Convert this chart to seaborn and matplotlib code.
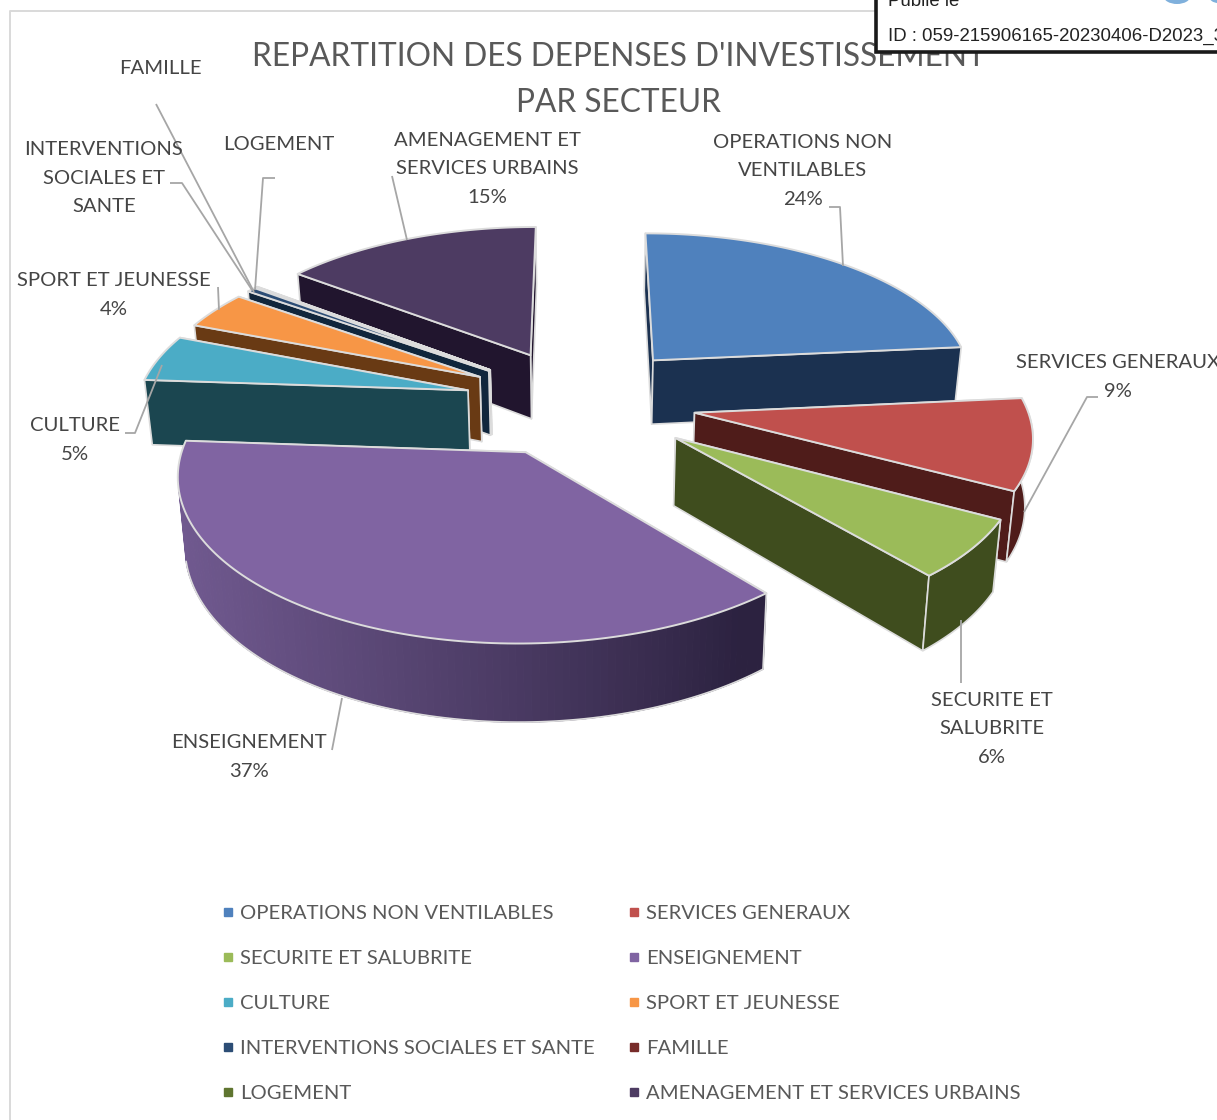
import numpy as np
import matplotlib
matplotlib.use("Agg")
import matplotlib.pyplot as plt
from matplotlib.lines import Line2D
from matplotlib.patches import Ellipse
import seaborn as sns

categories = ["OPERATIONS NON VENTILABLES", "SERVICES GENERAUX", "SECURITE ET SALUBRITE",
              "ENSEIGNEMENT", "CULTURE", "SPORT ET JEUNESSE",
              "INTERVENTIONS SOCIALES ET SANTE", "FAMILLE", "LOGEMENT",
              "AMENAGEMENT ET SERVICES URBAINS"]
values = [23.5, 9.3, 6.0, 37.3, 4.8, 3.9, 0.5, 0.05, 0.05, 14.6]
top_colors = ["#4f81bd", "#c0504d", "#9bbb59", "#8064a2", "#4bacc6", "#f79646",
              "#2c4d75", "#772c2a", "#5f7530", "#4d3b62"]
wall_colors = ["#1b3150", "#4f1c1a", "#3f4d1e", "#5f4b7c", "#1b4650", "#693a14",
               "#10263c", "#3c1514", "#2f3a16", "#21152e"]

sns.set_theme(style="white")
plt.rcParams["font.family"] = ["Lato", "DejaVu Sans"]
TXT = "#454545"
palette = sns.color_palette(top_colors)

W, H = 1217, 1120
fig = plt.figure(figsize=(W / 100, H / 100), dpi=100, facecolor="white")
ax = fig.add_axes([0, 0, 1, 1])
ax.set_xlim(0, W)
ax.set_ylim(H, 0)
ax.axis("off")

# perspective of the pie plane
CX, YV, C, K, F, DEPTH = 580.0, -865.0, 1267.0, 0.122, 331.0, 66.0
EXPL = [0.36, 0.35, 0.36, 0.35, 0.35, 0.35, 0.35, 0.35, 0.35, 0.35]
EXPL_TURN = [-3, 0, 0, 0, 0, 0, 0, 0, 0, 0]
RADIUS = [0.98, 1, 1, 1, 1, 1, 1, 1, 1, 1]
BOTTOM_SCALE = 0.982
WALL_FROM, WALL_TO = 90.0, 258.0


def project(u, v, bottom=False):
    w = 1.0 / (1.0 - K * v)
    x, y = CX + F * u * w, YV + C * w
    if bottom:
        x = CX + (x - CX) * BOTTOM_SCALE
        y = y + DEPTH * w
    return x, y


vals = np.array(values, dtype=float)
edges = np.concatenate([[0], np.cumsum(vals) / vals.sum() * 360.0])
EDGE = "#dcdcdc"
order = [9, 8, 7, 6, 5, 4, 3, 0, 1, 2]

for i in order:
    a0, a1 = np.radians(edges[i]), np.radians(edges[i + 1])
    mid = (a0 + a1) / 2 + np.radians(EXPL_TURN[i])
    u0, v0 = EXPL[i] * np.sin(mid), -EXPL[i] * np.cos(mid)
    t = np.linspace(a0, a1, 120)
    us, vs = u0 + RADIUS[i] * np.sin(t), v0 - RADIUS[i] * np.cos(t)
    xt, yt = project(us, vs)
    xb, yb = project(us, vs, True)
    ax_, ay_ = project(u0, v0)
    bx_, by_ = project(u0, v0, True)
    # radial faces: the one lying further back first
    for j in sorted((0, -1), key=lambda q: yt[q]):
        ax.fill([ax_, xt[j], xb[j], bx_], [ay_, yt[j], yb[j], by_],
                facecolor=wall_colors[i], edgecolor=EDGE, lw=1.2, joinstyle="round")
    # outer wall, only where the rim faces the viewer
    deg = np.degrees(t)
    vis = (deg >= WALL_FROM) & (deg <= WALL_TO)
    if vis.sum() > 1:
        xtv, ytv, xbv, ybv = xt[vis], yt[vis], xb[vis], yb[vis]
        if categories[i] == "ENSEIGNEMENT":
            light = np.array(matplotlib.colors.to_rgb("#70598f"))
            dark = np.array(matplotlib.colors.to_rgb("#2c2240"))
            for j in range(len(xtv) - 1):
                f = 1 - np.clip((xtv[j] - 180) / 560, 0, 1)
                col = dark + (light - dark) * f ** 0.9
                ax.fill([xtv[j], xtv[j + 1], xbv[j + 1], xbv[j]],
                        [ytv[j], ytv[j + 1], ybv[j + 1], ybv[j]],
                        facecolor=col, edgecolor=col, lw=0.8)
            ax.plot(np.r_[xbv[::-1], xtv[0]], np.r_[ybv[::-1], ytv[0]], color=EDGE, lw=1.2)
        else:
            ax.fill(np.r_[xtv, xbv[::-1]], np.r_[ytv, ybv[::-1]],
                    facecolor=wall_colors[i], edgecolor=EDGE, lw=1.2)
    # top
    ax.fill(np.r_[ax_, xt], np.r_[ay_, yt], facecolor=palette[i], edgecolor=EDGE, lw=1.4,
            joinstyle="round")

# leader lines
leaders = [[(156, 104), (254, 292)],
           [(170, 183), (182, 183), (252, 290)],
           [(275, 178), (263, 178), (255, 290)],
           [(392, 176), (407, 240)],
           [(829, 207), (840, 207), (843, 266)],
           [(1098, 397), (1087, 397), (1024, 512)],
           [(961, 620), (961, 683)],
           [(332, 750), (342, 698)],
           [(125, 433), (135, 433), (162, 365)],
           [(218, 287), (219, 310)]]
for pts in leaders:
    ax.plot(*zip(*pts), color="#a6a6a6", lw=1.3, solid_capstyle="butt")

# data labels
pct = [f"{round(v / vals.sum() * 100)}%" for v in vals]
labels = [("OPERATIONS NON\nVENTILABLES\n" + pct[0], 803, 171),
          ("SERVICES GENERAUX\n" + pct[1], 1118, 377),
          ("SECURITE ET\nSALUBRITE\n" + pct[2], 992, 729),
          ("ENSEIGNEMENT\n" + pct[3], 249, 757),
          ("CULTURE\n" + pct[4], 75, 440),
          ("SPORT ET JEUNESSE\n" + pct[5], 114, 295),
          ("INTERVENTIONS\nSOCIALES ET\nSANTE", 104, 178),
          ("FAMILLE", 160, 69),
          ("LOGEMENT", 279, 144),
          ("AMENAGEMENT ET\nSERVICES URBAINS\n" + pct[9], 487, 169)]
for s, x, y in labels:
    ax.text(x, y, s, ha="center", va="center", fontsize=14.6, color=TXT, linespacing=1.82, clip_on=True)

# title
ax.text(619, 57, "REPARTITION DES DEPENSES D'INVESTISSEMENT", ha="center", va="center",
        fontsize=22.8, color="#595959")
ax.text(619, 103, "PAR SECTEUR", ha="center", va="center", fontsize=22.8, color="#595959")

# chart frame
ax.plot([877, 9.5, 9.5], [11, 11, H], color="#d9d9d9", lw=1.4)

# stamp box, overlapping the chart
ax.fill([876, 1230, 1230, 876], [-5, -5, 52, 52], facecolor="white", edgecolor="#1a1a1a", lw=2.6,
        clip_on=True, zorder=5)
ax.add_patch(Ellipse((1177, -4), 27, 16, facecolor="#7fb0dc", edgecolor="none", zorder=6))
ax.add_patch(Ellipse((1218, -4), 18, 14, facecolor="#7fb0dc", edgecolor="none", zorder=6))
ax.text(888, 2, "Publié le", fontsize=13.4, family="Liberation Sans", color="#222222",
        va="center", zorder=6, clip_on=True)
ax.text(888, 36, "ID : 059-215906165-20230406-D2023_3", fontsize=13.4, family="Liberation Sans",
        color="#222222", va="center", zorder=6, clip_on=True)

# legend
handles = [Line2D([], [], ls="", marker="s", ms=5.8, color=c, label=n)
           for c, n in zip(palette, categories)]
handles = handles[0::2] + handles[1::2]
leg = ax.legend(handles=handles, ncol=2, loc="upper left", bbox_to_anchor=(218 / W, 1 - 904.5 / H),
                frameon=False, fontsize=14.6, labelcolor="#595959", borderpad=0, borderaxespad=0,
                labelspacing=1.375, handletextpad=0.1, handlelength=1.0, columnspacing=1.4)

fig.savefig("out.png", dpi=100)
